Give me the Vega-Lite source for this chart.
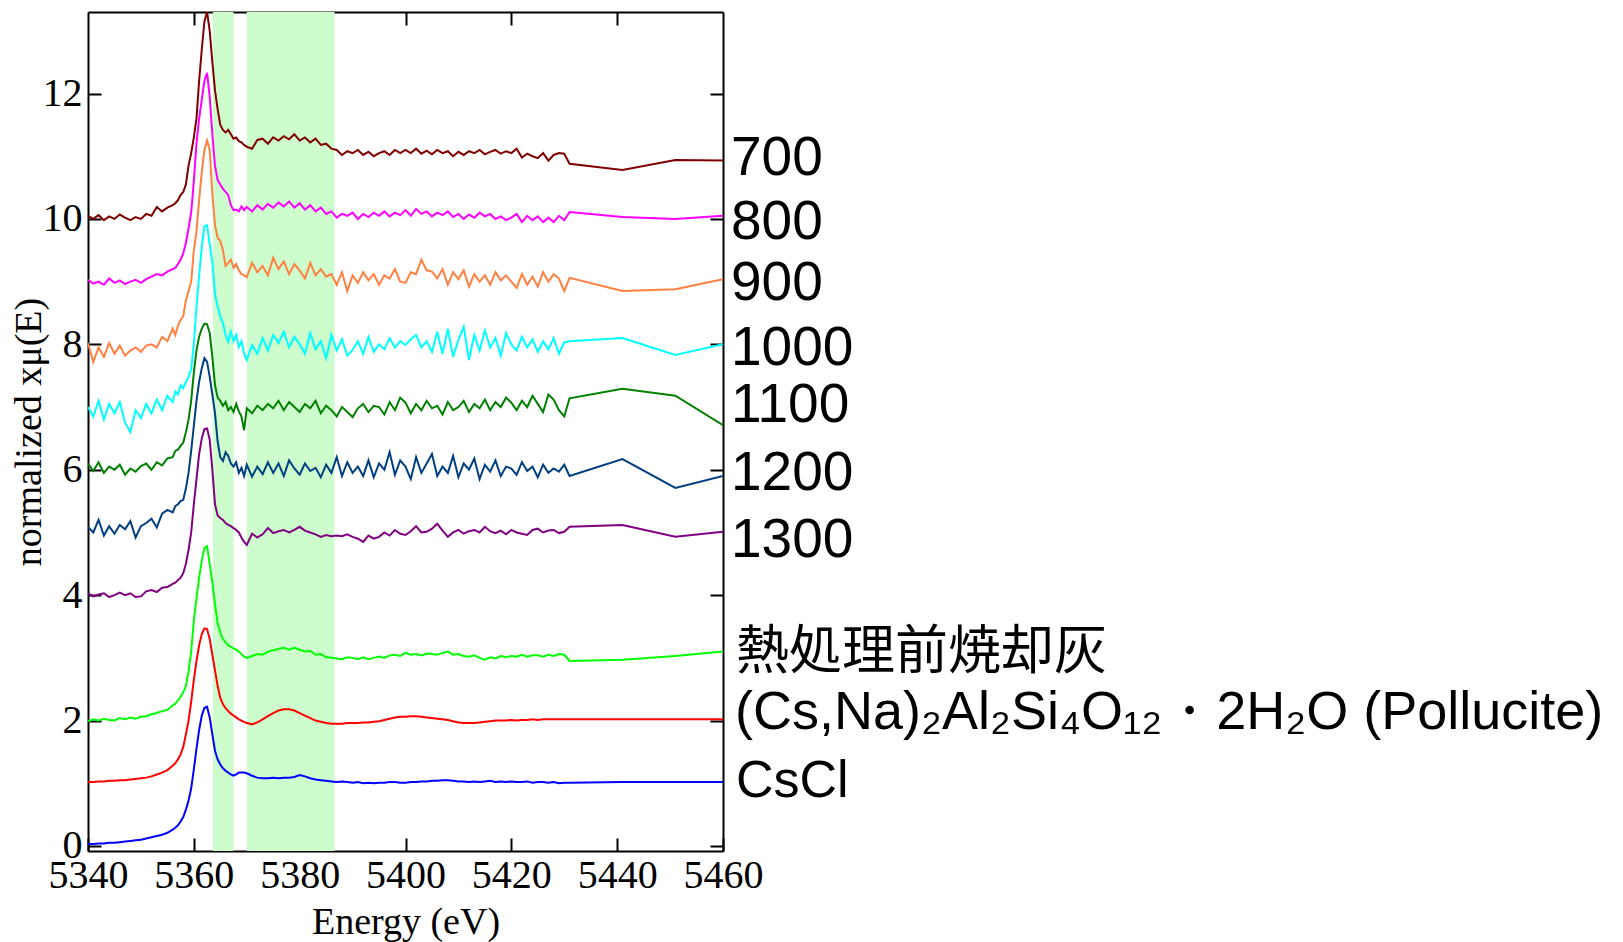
{
  "$schema": "https://vega.github.io/schema/vega-lite/v6.json",
  "width": 635,
  "height": 839,
  "autosize": {"type": "none"},
  "padding": {"left": 88, "top": 12, "right": 900, "bottom": 91},
  "background": "white",
  "config": {
    "view": {"stroke": null},
    "axis": {
      "domainColor": "#000", "domainWidth": 2,
      "tickColor": "#000", "tickWidth": 2, "tickSize": -13,
      "labelFont": "Liberation Serif", "labelFontSize": 40, "labelColor": "#000",
      "titleFont": "Liberation Serif", "titleFontSize": 38, "titleFontWeight": "normal", "titleColor": "#000",
      "grid": false
    }
  },
  "datasets": {
    "spectra": [
      {"e":5340,"t700":10.05,"t800":9.03,"t900":8.02,"t1000":7.0,"t1100":6.1,"t1200":5.09,"t1300":4.03,"ash":1.99,"pollucite":1.02,"cscl":0.03},
      {"e":5341,"t700":10.0,"t800":8.97,"t900":7.72,"t1000":6.85,"t1100":5.98,"t1200":5.0,"t1300":3.98,"ash":2.02,"pollucite":1.02,"cscl":0.03},
      {"e":5342,"t700":10.06,"t800":9.0,"t900":7.95,"t1000":7.1,"t1100":6.12,"t1200":5.2,"t1300":4.01,"ash":2.0,"pollucite":1.03,"cscl":0.04},
      {"e":5343,"t700":9.98,"t800":8.95,"t900":7.8,"t1000":6.8,"t1100":5.95,"t1200":4.95,"t1300":4.03,"ash":2.03,"pollucite":1.03,"cscl":0.04},
      {"e":5344,"t700":10.04,"t800":9.05,"t900":8.02,"t1000":7.05,"t1100":6.05,"t1200":5.1,"t1300":3.97,"ash":2.01,"pollucite":1.04,"cscl":0.05},
      {"e":5345,"t700":10.0,"t800":8.98,"t900":7.85,"t1000":6.9,"t1100":6.0,"t1200":4.98,"t1300":4.0,"ash":2.0,"pollucite":1.04,"cscl":0.05},
      {"e":5346,"t700":10.07,"t800":9.02,"t900":7.98,"t1000":7.08,"t1100":6.08,"t1200":5.12,"t1300":4.04,"ash":2.04,"pollucite":1.05,"cscl":0.06},
      {"e":5347,"t700":10.02,"t800":8.96,"t900":7.82,"t1000":6.75,"t1100":5.92,"t1200":5.05,"t1300":4.0,"ash":2.02,"pollucite":1.05,"cscl":0.07},
      {"e":5348,"t700":9.98,"t800":9.0,"t900":7.9,"t1000":6.6,"t1100":6.02,"t1200":5.18,"t1300":4.03,"ash":2.05,"pollucite":1.06,"cscl":0.08},
      {"e":5349,"t700":10.03,"t800":9.03,"t900":7.95,"t1000":6.95,"t1100":5.97,"t1200":4.92,"t1300":3.97,"ash":2.03,"pollucite":1.07,"cscl":0.09},
      {"e":5350,"t700":10.0,"t800":8.98,"t900":7.88,"t1000":6.82,"t1100":6.06,"t1200":5.1,"t1300":3.98,"ash":2.06,"pollucite":1.08,"cscl":0.1},
      {"e":5351,"t700":10.08,"t800":9.04,"t900":7.98,"t1000":7.05,"t1100":6.1,"t1200":5.15,"t1300":4.06,"ash":2.07,"pollucite":1.09,"cscl":0.12},
      {"e":5352,"t700":10.05,"t800":9.08,"t900":8.0,"t1000":6.9,"t1100":6.0,"t1200":5.22,"t1300":4.08,"ash":2.1,"pollucite":1.11,"cscl":0.14},
      {"e":5353,"t700":10.19,"t800":9.12,"t900":7.95,"t1000":7.12,"t1100":6.12,"t1200":5.08,"t1300":4.05,"ash":2.12,"pollucite":1.14,"cscl":0.16},
      {"e":5354,"t700":10.12,"t800":9.1,"t900":8.12,"t1000":6.95,"t1100":6.07,"t1200":5.3,"t1300":4.12,"ash":2.15,"pollucite":1.17,"cscl":0.18},
      {"e":5355,"t700":10.18,"t800":9.16,"t900":8.05,"t1000":7.18,"t1100":6.18,"t1200":5.36,"t1300":4.13,"ash":2.17,"pollucite":1.21,"cscl":0.21},
      {"e":5356,"t700":10.22,"t800":9.2,"t900":8.25,"t1000":7.08,"t1100":6.2,"t1200":5.32,"t1300":4.18,"ash":2.24,"pollucite":1.28,"cscl":0.26},
      {"e":5356.5,"t700":10.25,"t800":9.22,"t900":8.15,"t1000":7.25,"t1100":6.3,"t1200":5.42,"t1300":4.2,"ash":2.27,"pollucite":1.32,"cscl":0.29},
      {"e":5357,"t700":10.3,"t800":9.28,"t900":8.3,"t1000":7.2,"t1100":6.32,"t1200":5.45,"t1300":4.24,"ash":2.32,"pollucite":1.38,"cscl":0.33},
      {"e":5357.5,"t700":10.38,"t800":9.35,"t900":8.39,"t1000":7.35,"t1100":6.38,"t1200":5.5,"t1300":4.28,"ash":2.38,"pollucite":1.46,"cscl":0.39},
      {"e":5358,"t700":10.43,"t800":9.45,"t900":8.45,"t1000":7.3,"t1100":6.43,"t1200":5.52,"t1300":4.35,"ash":2.45,"pollucite":1.58,"cscl":0.46},
      {"e":5358.5,"t700":10.55,"t800":9.62,"t900":8.7,"t1000":7.4,"t1100":6.6,"t1200":5.7,"t1300":4.5,"ash":2.55,"pollucite":1.78,"cscl":0.58},
      {"e":5359,"t700":10.85,"t800":9.85,"t900":8.85,"t1000":7.48,"t1100":6.8,"t1200":5.95,"t1300":4.72,"ash":2.78,"pollucite":2.0,"cscl":0.72},
      {"e":5359.5,"t700":11.05,"t800":10.1,"t900":9.0,"t1000":7.6,"t1100":7.1,"t1200":6.3,"t1300":5.0,"ash":3.1,"pollucite":2.3,"cscl":0.92},
      {"e":5360,"t700":11.3,"t800":10.6,"t900":9.5,"t1000":8.0,"t1100":7.55,"t1200":6.7,"t1300":5.45,"ash":3.6,"pollucite":2.65,"cscl":1.22},
      {"e":5360.5,"t700":11.6,"t800":11.2,"t900":9.8,"t1000":8.6,"t1100":7.9,"t1200":7.1,"t1300":5.85,"ash":3.95,"pollucite":2.95,"cscl":1.55},
      {"e":5361,"t700":12.2,"t800":11.6,"t900":10.3,"t1000":9.1,"t1100":8.12,"t1200":7.4,"t1300":6.25,"ash":4.28,"pollucite":3.2,"cscl":1.85},
      {"e":5361.5,"t700":12.7,"t800":11.9,"t900":10.75,"t1000":9.55,"t1100":8.25,"t1200":7.62,"t1300":6.5,"ash":4.55,"pollucite":3.38,"cscl":2.08},
      {"e":5362,"t700":13.15,"t800":12.2,"t900":11.1,"t1000":9.88,"t1100":8.33,"t1200":7.78,"t1300":6.65,"ash":4.75,"pollucite":3.47,"cscl":2.2},
      {"e":5362.5,"t700":13.3,"t800":12.33,"t900":11.25,"t1000":9.9,"t1100":8.32,"t1200":7.72,"t1300":6.66,"ash":4.78,"pollucite":3.46,"cscl":2.22},
      {"e":5363,"t700":13.0,"t800":11.95,"t900":11.1,"t1000":9.6,"t1100":8.18,"t1200":7.48,"t1300":6.48,"ash":4.5,"pollucite":3.3,"cscl":2.05},
      {"e":5363.5,"t700":12.5,"t800":11.35,"t900":10.4,"t1000":9.3,"t1100":7.8,"t1200":7.2,"t1300":6.0,"ash":4.2,"pollucite":3.05,"cscl":1.78},
      {"e":5364,"t700":12.05,"t800":10.85,"t900":9.9,"t1000":8.8,"t1100":7.35,"t1200":6.9,"t1300":5.45,"ash":3.85,"pollucite":2.8,"cscl":1.52},
      {"e":5364.5,"t700":11.75,"t800":10.62,"t900":9.7,"t1000":8.6,"t1100":7.15,"t1200":6.45,"t1300":5.27,"ash":3.55,"pollucite":2.55,"cscl":1.38},
      {"e":5365,"t700":11.5,"t800":10.55,"t900":9.65,"t1000":8.45,"t1100":7.1,"t1200":6.2,"t1300":5.23,"ash":3.4,"pollucite":2.36,"cscl":1.3},
      {"e":5365.5,"t700":11.42,"t800":10.48,"t900":9.5,"t1000":8.34,"t1100":7.02,"t1200":6.14,"t1300":5.2,"ash":3.3,"pollucite":2.26,"cscl":1.24},
      {"e":5366,"t700":11.38,"t800":10.43,"t900":9.25,"t1000":8.15,"t1100":7.08,"t1200":6.28,"t1300":5.15,"ash":3.25,"pollucite":2.2,"cscl":1.2},
      {"e":5366.5,"t700":11.42,"t800":10.38,"t900":9.3,"t1000":8.04,"t1100":6.95,"t1200":6.22,"t1300":5.12,"ash":3.2,"pollucite":2.15,"cscl":1.17},
      {"e":5367,"t700":11.35,"t800":10.22,"t900":9.35,"t1000":8.2,"t1100":7.0,"t1200":6.1,"t1300":5.1,"ash":3.18,"pollucite":2.11,"cscl":1.14},
      {"e":5367.5,"t700":11.28,"t800":10.14,"t900":9.22,"t1000":8.05,"t1100":6.92,"t1200":6.05,"t1300":5.07,"ash":3.15,"pollucite":2.08,"cscl":1.12},
      {"e":5368,"t700":11.3,"t800":10.15,"t900":9.28,"t1000":8.15,"t1100":7.05,"t1200":6.12,"t1300":5.04,"ash":3.13,"pollucite":2.05,"cscl":1.14},
      {"e":5368.5,"t700":11.24,"t800":10.12,"t900":9.18,"t1000":7.96,"t1100":6.93,"t1200":5.95,"t1300":5.0,"ash":3.1,"pollucite":2.02,"cscl":1.17},
      {"e":5369,"t700":11.22,"t800":10.2,"t900":9.12,"t1000":8.05,"t1100":6.85,"t1200":6.03,"t1300":4.92,"ash":3.06,"pollucite":2.0,"cscl":1.17},
      {"e":5369.5,"t700":11.18,"t800":10.14,"t900":9.1,"t1000":7.85,"t1100":6.63,"t1200":5.9,"t1300":4.85,"ash":3.02,"pollucite":1.98,"cscl":1.17},
      {"e":5370,"t700":11.15,"t800":10.19,"t900":9.07,"t1000":7.75,"t1100":6.98,"t1200":6.08,"t1300":4.8,"ash":3.0,"pollucite":1.96,"cscl":1.16},
      {"e":5371,"t700":11.12,"t800":10.12,"t900":9.3,"t1000":7.99,"t1100":6.9,"t1200":5.89,"t1300":4.98,"ash":3.03,"pollucite":1.94,"cscl":1.12},
      {"e":5372,"t700":11.26,"t800":10.22,"t900":9.15,"t1000":7.85,"t1100":7.02,"t1200":6.05,"t1300":4.92,"ash":3.06,"pollucite":1.97,"cscl":1.09},
      {"e":5373,"t700":11.28,"t800":10.15,"t900":9.25,"t1000":8.1,"t1100":6.95,"t1200":5.93,"t1300":4.97,"ash":3.05,"pollucite":2.02,"cscl":1.08},
      {"e":5374,"t700":11.2,"t800":10.24,"t900":9.1,"t1000":7.9,"t1100":7.05,"t1200":6.12,"t1300":5.07,"ash":3.1,"pollucite":2.07,"cscl":1.08},
      {"e":5375,"t700":11.3,"t800":10.18,"t900":9.38,"t1000":8.15,"t1100":6.98,"t1200":5.95,"t1300":4.99,"ash":3.12,"pollucite":2.12,"cscl":1.09},
      {"e":5376,"t700":11.25,"t800":10.26,"t900":9.2,"t1000":8.02,"t1100":7.1,"t1200":6.1,"t1300":5.02,"ash":3.14,"pollucite":2.16,"cscl":1.08},
      {"e":5377,"t700":11.32,"t800":10.2,"t900":9.32,"t1000":8.2,"t1100":6.95,"t1200":5.9,"t1300":5.04,"ash":3.16,"pollucite":2.18,"cscl":1.09},
      {"e":5378,"t700":11.27,"t800":10.28,"t900":9.12,"t1000":7.95,"t1100":7.08,"t1200":6.15,"t1300":5.0,"ash":3.13,"pollucite":2.18,"cscl":1.09},
      {"e":5379,"t700":11.35,"t800":10.18,"t900":9.28,"t1000":8.12,"t1100":7.0,"t1200":6.02,"t1300":5.04,"ash":3.16,"pollucite":2.16,"cscl":1.1},
      {"e":5380,"t700":11.25,"t800":10.25,"t900":9.18,"t1000":8.0,"t1100":6.92,"t1200":5.92,"t1300":5.09,"ash":3.13,"pollucite":2.12,"cscl":1.13},
      {"e":5381,"t700":11.3,"t800":10.15,"t900":9.05,"t1000":7.85,"t1100":7.05,"t1200":6.1,"t1300":5.03,"ash":3.1,"pollucite":2.08,"cscl":1.11},
      {"e":5382,"t700":11.22,"t800":10.22,"t900":9.3,"t1000":8.18,"t1100":6.98,"t1200":5.98,"t1300":5.0,"ash":3.11,"pollucite":2.04,"cscl":1.08},
      {"e":5383,"t700":11.28,"t800":10.12,"t900":9.1,"t1000":7.92,"t1100":7.1,"t1200":6.03,"t1300":4.97,"ash":3.05,"pollucite":2.0,"cscl":1.06},
      {"e":5384,"t700":11.18,"t800":10.18,"t900":9.2,"t1000":8.05,"t1100":6.9,"t1200":5.88,"t1300":4.93,"ash":3.06,"pollucite":1.98,"cscl":1.05},
      {"e":5385,"t700":11.2,"t800":10.08,"t900":9.08,"t1000":7.78,"t1100":7.02,"t1200":6.08,"t1300":4.96,"ash":3.01,"pollucite":1.96,"cscl":1.04},
      {"e":5386,"t700":11.12,"t800":10.12,"t900":9.12,"t1000":8.15,"t1100":6.95,"t1200":5.95,"t1300":4.94,"ash":3.0,"pollucite":1.95,"cscl":1.03},
      {"e":5387,"t700":11.1,"t800":10.02,"t900":8.95,"t1000":7.9,"t1100":6.85,"t1200":6.2,"t1300":4.95,"ash":2.99,"pollucite":1.95,"cscl":1.02},
      {"e":5388,"t700":11.02,"t800":10.08,"t900":9.15,"t1000":8.08,"t1100":7.0,"t1200":5.9,"t1300":4.94,"ash":2.98,"pollucite":1.95,"cscl":1.03},
      {"e":5389,"t700":11.08,"t800":10.05,"t900":8.85,"t1000":7.82,"t1100":6.92,"t1200":6.12,"t1300":4.97,"ash":3.01,"pollucite":1.96,"cscl":1.02},
      {"e":5390,"t700":11.05,"t800":10.1,"t900":9.1,"t1000":7.91,"t1100":6.84,"t1200":5.95,"t1300":4.93,"ash":3.0,"pollucite":1.96,"cscl":1.01},
      {"e":5391,"t700":11.1,"t800":10.0,"t900":8.98,"t1000":8.05,"t1100":6.98,"t1200":6.05,"t1300":4.9,"ash":2.98,"pollucite":1.96,"cscl":1.02},
      {"e":5392,"t700":11.02,"t800":10.08,"t900":9.15,"t1000":7.85,"t1100":7.05,"t1200":5.9,"t1300":4.85,"ash":3.01,"pollucite":1.97,"cscl":1.0},
      {"e":5393,"t700":11.07,"t800":10.03,"t900":9.02,"t1000":8.12,"t1100":6.92,"t1200":6.15,"t1300":4.95,"ash":2.98,"pollucite":1.97,"cscl":1.01},
      {"e":5394,"t700":11.0,"t800":10.1,"t900":9.12,"t1000":7.88,"t1100":7.02,"t1200":5.88,"t1300":4.9,"ash":3.0,"pollucite":1.98,"cscl":1.0},
      {"e":5395,"t700":11.05,"t800":10.05,"t900":8.95,"t1000":8.0,"t1100":7.0,"t1200":6.1,"t1300":4.93,"ash":3.02,"pollucite":1.99,"cscl":1.01},
      {"e":5396,"t700":11.08,"t800":10.12,"t900":9.1,"t1000":7.92,"t1100":6.88,"t1200":6.0,"t1300":5.0,"ash":3.0,"pollucite":2.01,"cscl":1.01},
      {"e":5397,"t700":11.02,"t800":10.04,"t900":9.05,"t1000":8.1,"t1100":7.08,"t1200":6.28,"t1300":4.95,"ash":3.04,"pollucite":2.03,"cscl":1.02},
      {"e":5398,"t700":11.1,"t800":10.1,"t900":9.2,"t1000":7.95,"t1100":6.95,"t1200":5.92,"t1300":5.04,"ash":3.05,"pollucite":2.05,"cscl":1.02},
      {"e":5399,"t700":11.05,"t800":10.06,"t900":9.0,"t1000":8.05,"t1100":7.15,"t1200":6.15,"t1300":4.98,"ash":3.03,"pollucite":2.06,"cscl":1.01},
      {"e":5400,"t700":11.1,"t800":10.14,"t900":8.98,"t1000":7.99,"t1100":7.07,"t1200":6.05,"t1300":4.96,"ash":3.08,"pollucite":2.06,"cscl":1.01},
      {"e":5401,"t700":11.05,"t800":10.05,"t900":9.15,"t1000":8.08,"t1100":6.9,"t1200":5.85,"t1300":5.02,"ash":3.05,"pollucite":2.07,"cscl":1.02},
      {"e":5402,"t700":11.12,"t800":10.16,"t900":9.12,"t1000":8.15,"t1100":7.05,"t1200":6.2,"t1300":5.1,"ash":3.06,"pollucite":2.07,"cscl":1.02},
      {"e":5403,"t700":11.04,"t800":10.08,"t900":9.35,"t1000":7.95,"t1100":6.95,"t1200":5.95,"t1300":5.0,"ash":3.04,"pollucite":2.06,"cscl":1.03},
      {"e":5404,"t700":11.09,"t800":10.12,"t900":9.18,"t1000":8.05,"t1100":7.1,"t1200":6.1,"t1300":5.01,"ash":3.07,"pollucite":2.05,"cscl":1.03},
      {"e":5405,"t700":11.03,"t800":10.04,"t900":9.16,"t1000":7.88,"t1100":6.98,"t1200":6.25,"t1300":5.06,"ash":3.06,"pollucite":2.04,"cscl":1.04},
      {"e":5406,"t700":11.1,"t800":10.1,"t900":9.05,"t1000":8.2,"t1100":7.02,"t1200":5.9,"t1300":5.14,"ash":3.05,"pollucite":2.03,"cscl":1.04},
      {"e":5407,"t700":11.05,"t800":10.06,"t900":9.2,"t1000":7.85,"t1100":6.88,"t1200":6.05,"t1300":5.03,"ash":3.08,"pollucite":2.02,"cscl":1.05},
      {"e":5408,"t700":11.08,"t800":10.12,"t900":8.95,"t1000":8.25,"t1100":7.08,"t1200":5.95,"t1300":4.93,"ash":3.1,"pollucite":2.01,"cscl":1.05},
      {"e":5409,"t700":11.0,"t800":10.03,"t900":9.15,"t1000":7.8,"t1100":6.95,"t1200":6.22,"t1300":5.0,"ash":3.05,"pollucite":1.99,"cscl":1.04},
      {"e":5410,"t700":11.07,"t800":10.08,"t900":9.04,"t1000":8.07,"t1100":7.0,"t1200":5.88,"t1300":5.04,"ash":3.06,"pollucite":1.97,"cscl":1.03},
      {"e":5411,"t700":11.02,"t800":10.0,"t900":9.18,"t1000":8.28,"t1100":7.1,"t1200":6.1,"t1300":4.98,"ash":3.03,"pollucite":1.96,"cscl":1.03},
      {"e":5412,"t700":11.08,"t800":10.07,"t900":8.92,"t1000":7.75,"t1100":6.92,"t1200":6.0,"t1300":5.02,"ash":3.02,"pollucite":1.96,"cscl":1.02},
      {"e":5413,"t700":11.05,"t800":10.02,"t900":9.12,"t1000":8.15,"t1100":7.05,"t1200":6.18,"t1300":5.04,"ash":3.04,"pollucite":1.96,"cscl":1.03},
      {"e":5414,"t700":11.1,"t800":10.1,"t900":9.0,"t1000":7.9,"t1100":6.98,"t1200":5.85,"t1300":5.0,"ash":3.0,"pollucite":1.97,"cscl":1.02},
      {"e":5415,"t700":11.03,"t800":10.04,"t900":9.1,"t1000":8.22,"t1100":7.12,"t1200":6.08,"t1300":5.09,"ash":2.97,"pollucite":1.98,"cscl":1.03},
      {"e":5416,"t700":11.07,"t800":10.08,"t900":8.95,"t1000":7.95,"t1100":6.95,"t1200":5.97,"t1300":5.02,"ash":3.01,"pollucite":1.99,"cscl":1.04},
      {"e":5417,"t700":11.1,"t800":10.0,"t900":9.15,"t1000":8.1,"t1100":7.08,"t1200":6.15,"t1300":4.99,"ash":2.99,"pollucite":2.0,"cscl":1.02},
      {"e":5418,"t700":11.04,"t800":10.04,"t900":9.02,"t1000":7.82,"t1100":7.0,"t1200":5.9,"t1300":5.03,"ash":3.03,"pollucite":2.0,"cscl":1.03},
      {"e":5419,"t700":11.08,"t800":9.98,"t900":9.1,"t1000":8.18,"t1100":7.15,"t1200":6.05,"t1300":4.97,"ash":3.01,"pollucite":2.0,"cscl":1.02},
      {"e":5420,"t700":11.05,"t800":10.02,"t900":9.0,"t1000":8.0,"t1100":7.07,"t1200":6.02,"t1300":5.04,"ash":3.03,"pollucite":2.01,"cscl":1.03},
      {"e":5421,"t700":11.12,"t800":10.08,"t900":8.9,"t1000":7.9,"t1100":6.95,"t1200":5.92,"t1300":5.0,"ash":3.02,"pollucite":2.0,"cscl":1.02},
      {"e":5422,"t700":10.98,"t800":9.95,"t900":9.12,"t1000":8.12,"t1100":7.1,"t1200":6.12,"t1300":4.98,"ash":3.05,"pollucite":2.01,"cscl":1.02},
      {"e":5423,"t700":11.04,"t800":10.05,"t900":8.95,"t1000":7.95,"t1100":7.0,"t1200":5.98,"t1300":4.96,"ash":3.02,"pollucite":2.01,"cscl":1.03},
      {"e":5424,"t700":11.0,"t800":9.98,"t900":9.08,"t1000":8.08,"t1100":7.18,"t1200":6.05,"t1300":5.04,"ash":3.04,"pollucite":2.02,"cscl":1.01},
      {"e":5425,"t700":10.97,"t800":10.04,"t900":8.92,"t1000":7.88,"t1100":7.05,"t1200":5.88,"t1300":5.06,"ash":3.04,"pollucite":2.01,"cscl":1.02},
      {"e":5426,"t700":11.05,"t800":9.95,"t900":9.15,"t1000":8.05,"t1100":6.92,"t1200":6.08,"t1300":5.0,"ash":3.02,"pollucite":2.02,"cscl":1.02},
      {"e":5427,"t700":10.93,"t800":10.02,"t900":9.0,"t1000":7.92,"t1100":7.2,"t1200":5.95,"t1300":5.03,"ash":3.05,"pollucite":2.02,"cscl":1.01},
      {"e":5428,"t700":11.02,"t800":9.95,"t900":9.12,"t1000":8.1,"t1100":7.12,"t1200":6.02,"t1300":5.04,"ash":3.03,"pollucite":2.02,"cscl":1.02},
      {"e":5429,"t700":11.05,"t800":10.05,"t900":9.05,"t1000":7.85,"t1100":6.95,"t1200":5.97,"t1300":4.99,"ash":3.06,"pollucite":2.02,"cscl":1.0},
      {"e":5430,"t700":11.04,"t800":9.98,"t900":8.85,"t1000":8.03,"t1100":6.85,"t1200":6.08,"t1300":5.01,"ash":3.05,"pollucite":2.02,"cscl":1.01},
      {"e":5431,"t700":10.88,"t800":10.11,"t900":9.06,"t1000":8.05,"t1100":7.14,"t1200":5.9,"t1300":5.09,"ash":2.95,"pollucite":2.02,"cscl":1.01},
      {"e":5441,"t700":10.78,"t800":10.03,"t900":8.85,"t1000":8.1,"t1100":7.29,"t1200":6.17,"t1300":5.12,"ash":2.97,"pollucite":2.02,"cscl":1.02},
      {"e":5451,"t700":10.94,"t800":10.0,"t900":8.88,"t1000":7.83,"t1100":7.18,"t1200":5.71,"t1300":4.93,"ash":3.03,"pollucite":2.02,"cscl":1.02},
      {"e":5460,"t700":10.93,"t800":10.05,"t900":9.04,"t1000":8.0,"t1100":6.71,"t1200":5.9,"t1300":5.01,"ash":3.1,"pollucite":2.02,"cscl":1.02}
    ],
    "bands": [
      {"lo": 5363.6, "hi": 5367.5},
      {"lo": 5370.0, "hi": 5386.6}
    ],
    "temps": [
      {"label": "700", "pos": 10.97},
      {"label": "800", "pos": 9.95},
      {"label": "900", "pos": 8.98},
      {"label": "1000", "pos": 7.94},
      {"label": "1100", "pos": 7.03},
      {"label": "1200", "pos": 5.95},
      {"label": "1300", "pos": 4.88}
    ],
    "ashlabel": [
      {"label": "熱処理前焼却灰", "pos": 3.07}
    ],
    "formula": [
      {"label": "(Cs,Na)₂Al₂Si₄O₁₂・2H₂O (Pollucite)", "pos": 2.12}
    ],
    "cscllabel": [
      {"label": "CsCl", "pos": 1.04}
    ]
  },
  "resolve": {"axis": {"x": "independent", "y": "independent"}},
  "layer": [
    {
      "data": {"name": "bands"},
      "mark": {"type": "rect", "color": "#cdfccd"},
      "encoding": {
        "x": {"field": "lo", "type": "quantitative",
              "scale": {"domain": [5340, 5460], "nice": false, "zero": false},
              "axis": {"orient": "top", "values": [5360, 5380, 5400, 5420, 5440], "labels": false, "title": null}},
        "x2": {"field": "hi"}
      }
    },
    {
      "data": {"name": "spectra"},
      "transform": [
        {"fold": ["t700", "t800", "t900", "t1000", "t1100", "t1200", "t1300", "ash", "pollucite", "cscl"], "as": ["series", "v"]}
      ],
      "mark": {"type": "line", "strokeWidth": 2, "clip": true},
      "encoding": {
        "x": {"field": "e", "type": "quantitative",
              "scale": {"domain": [5340, 5460], "nice": false, "zero": false},
              "axis": {"orient": "bottom", "values": [5340, 5360, 5380, 5400, 5420, 5440, 5460], "format": "d", "labelFlush": false, "labelPadding": 17, "title": "Energy (eV)", "titlePadding": 8}},
        "y": {"field": "v", "type": "quantitative",
              "scale": {"domain": [-0.08, 13.3], "nice": false, "zero": false},
              "axis": {"orient": "left", "values": [0, 2, 4, 6, 8, 10, 12], "labelPadding": 19, "title": "normalized xμ(E)", "titlePadding": -6}},
        "color": {"field": "series", "type": "nominal", "legend": null,
                  "scale": {"domain": ["t700", "t800", "t900", "t1000", "t1100", "t1200", "t1300", "ash", "pollucite", "cscl"],
                            "range": ["#800000", "#ff00ff", "#ff8040", "#00ffff", "#008000", "#004080", "#800080", "#00ff00", "#ff0000", "#0000ff"]}}
      }
    },
    {
      "data": {"name": "temps"},
      "mark": {"type": "text", "align": "left", "baseline": "middle", "dx": 8, "font": "Liberation Sans", "fontSize": 55, "color": "#000"},
      "encoding": {
        "x": {"datum": 5460, "type": "quantitative", "axis": null},
        "y": {"field": "pos", "type": "quantitative",
              "axis": {"orient": "right", "values": [0, 2, 4, 6, 8, 10, 12], "labels": false, "title": null}},
        "text": {"field": "label"}
      }
    },
    {
      "data": {"name": "ashlabel"},
      "mark": {"type": "text", "align": "left", "baseline": "middle", "dx": 13, "font": "Noto Sans CJK JP", "fontSize": 53, "color": "#000"},
      "encoding": {
        "x": {"datum": 5460, "type": "quantitative", "axis": null},
        "y": {"field": "pos", "type": "quantitative", "axis": null},
        "text": {"field": "label"}
      }
    },
    {
      "data": {"name": "formula"},
      "mark": {"type": "text", "align": "left", "baseline": "middle", "dx": 12, "font": "Liberation Sans", "fontSize": 54, "color": "#000"},
      "encoding": {
        "x": {"datum": 5460, "type": "quantitative", "axis": null},
        "y": {"field": "pos", "type": "quantitative", "axis": null},
        "text": {"field": "label"}
      }
    },
    {
      "data": {"name": "cscllabel"},
      "mark": {"type": "text", "align": "left", "baseline": "middle", "dx": 13, "font": "Liberation Sans", "fontSize": 52, "color": "#000"},
      "encoding": {
        "x": {"datum": 5460, "type": "quantitative", "axis": null},
        "y": {"field": "pos", "type": "quantitative", "axis": null},
        "text": {"field": "label"}
      }
    }
  ]
}
